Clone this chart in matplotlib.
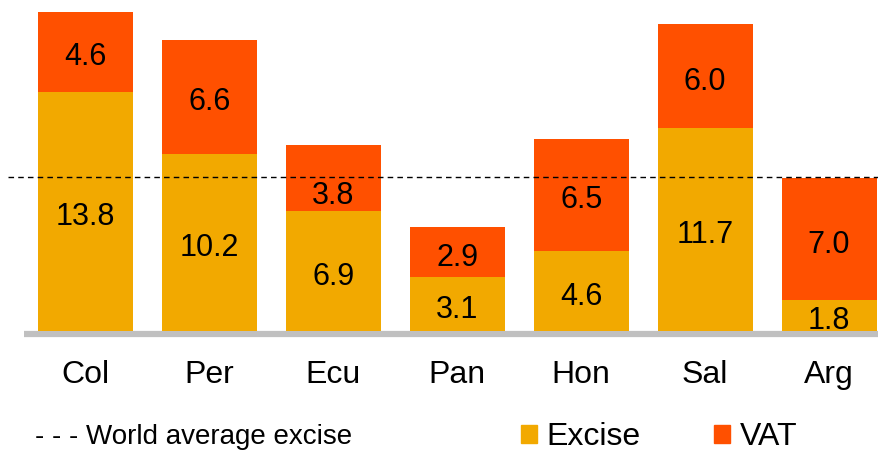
import matplotlib.pyplot as plt
from matplotlib.patches import Patch

plt.rcParams['font.family'] = ['Liberation Sans', 'DejaVu Sans']

# tax components per country
countries = ['Col', 'Per', 'Ecu', 'Pan', 'Hon', 'Sal', 'Arg']
excise = [13.8, 10.2, 6.9, 3.1, 4.6, 11.7, 1.8]
vat = [4.6, 6.6, 3.8, 2.9, 6.5, 6.0, 7.0]
world_avg_excise = 8.9

EXCISE_COL = '#F2A900'
VAT_COL = '#FF5000'

fig = plt.figure(figsize=(8.79, 4.54), dpi=100)
ax = fig.add_axes([0, 1 - 331 / 454, 1, 331 / 454])

x = list(range(len(countries)))
w = 0.767
ax.bar(x, excise, width=w, color=EXCISE_COL, label='Excise', zorder=2)
ax.bar(x, vat, width=w, bottom=excise, color=VAT_COL, label='VAT', zorder=2)

# values written in the middle of each segment (Ecu VAT pushed below the dashed line)
for i in x:
    ax.annotate(f'{excise[i]:.1f}', (i, excise[i] / 2), xytext=(0, -4),
                textcoords='offset points', ha='center', va='center',
                fontsize=22, zorder=3)
    dy = -13 if countries[i] == 'Ecu' else -4
    ax.annotate(f'{vat[i]:.1f}', (i, excise[i] + vat[i] / 2), xytext=(0, dy),
                textcoords='offset points', ha='center', va='center',
                fontsize=22, zorder=3)

xmin, xmax = -0.69, 6.403
ax.set_xlim(xmin, xmax)
ax.set_ylim(0, 19.09)

# world average excise reference line
ax.plot([-0.625, xmax], [world_avg_excise] * 2, ls=(0, (4, 3)), color='black',
        lw=1, zorder=4, clip_on=False)

# grey base line under the bars
ax.plot([-0.496, xmax], [-0.17, -0.17], color='#C0C0C0', lw=4.5,
        solid_capstyle='butt', clip_on=False, zorder=1)

for s in ax.spines.values():
    s.set_visible(False)
ax.set_yticks([])
ax.set_xticks(x)
ax.set_xticklabels(countries, fontsize=23)
ax.tick_params(axis='x', length=0, pad=21)

fig.text(35 / 879, 1 - 437 / 454, '- - - World average excise', fontsize=20,
         va='center', ha='left')

handles = [Patch(color=EXCISE_COL), Patch(color=VAT_COL)]
fig.legend(handles, ['Excise', 'VAT'], loc='center left',
           bbox_to_anchor=(521 / 879, 1 - 437 / 454), ncol=2, frameon=False,
           fontsize=23, handlelength=0.5, handleheight=0.5, handletextpad=0.3,
           columnspacing=2.3, borderaxespad=0, borderpad=0)

fig.savefig('out.png', dpi=100)
